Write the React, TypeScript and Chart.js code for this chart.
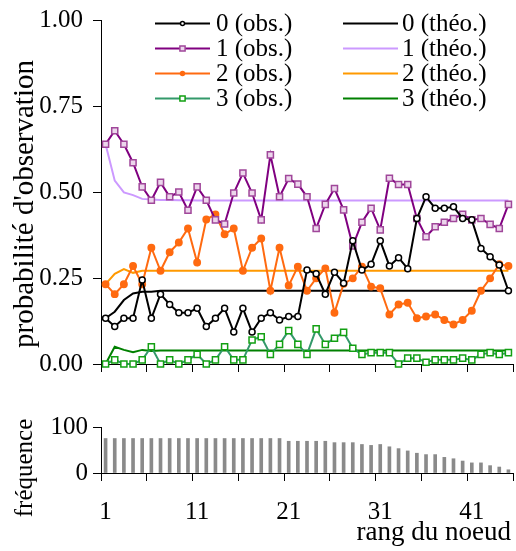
import React, { useEffect, useRef } from 'react';
import { Chart, registerables } from 'chart.js';

Chart.register(...registerables);

// ---------- data ----------
const ranks = [1, 2, 3, 4, 5, 6, 7, 8, 9, 10, 11, 12, 13, 14, 15, 16, 17, 18, 19, 20, 21, 22, 23, 24, 25, 26, 27, 28, 29, 30, 31, 32, 33, 34, 35, 36, 37, 38, 39, 40, 41, 42, 43, 44, 45];

const obs0 = [0.133, 0.109, 0.133, 0.133, 0.244, 0.133, 0.203, 0.173, 0.149, 0.149, 0.162, 0.109, 0.133, 0.162, 0.093, 0.162, 0.093, 0.133, 0.149, 0.128, 0.138, 0.138, 0.273, 0.262, 0.203, 0.267, 0.235, 0.358, 0.273, 0.29, 0.358, 0.285, 0.309, 0.277, 0.423, 0.486, 0.453, 0.453, 0.457, 0.423, 0.419, 0.336, 0.312, 0.288, 0.213];
const obs1 = [0.639, 0.678, 0.639, 0.585, 0.515, 0.476, 0.528, 0.486, 0.5, 0.447, 0.515, 0.476, 0.419, 0.407, 0.497, 0.555, 0.497, 0.419, 0.608, 0.486, 0.539, 0.523, 0.486, 0.394, 0.464, 0.51, 0.448, 0.343, 0.412, 0.453, 0.39, 0.54, 0.522, 0.522, 0.423, 0.37, 0.399, 0.412, 0.423, 0.435, 0.419, 0.423, 0.406, 0.394, 0.464];
const obs2 = [0.232, 0.203, 0.232, 0.285, 0.232, 0.338, 0.271, 0.325, 0.353, 0.394, 0.295, 0.42, 0.435, 0.377, 0.394, 0.271, 0.338, 0.365, 0.213, 0.338, 0.228, 0.283, 0.213, 0.249, 0.278, 0.149, 0.233, 0.249, 0.283, 0.225, 0.22, 0.144, 0.173, 0.178, 0.133, 0.138, 0.144, 0.128, 0.115, 0.128, 0.155, 0.213, 0.249, 0.29, 0.285];
const obs3 = [0, 0.012, 0, 0, 0.012, 0.05, 0, 0.012, 0, 0.012, 0.028, 0, 0.012, 0.05, 0.012, 0.012, 0.07, 0.079, 0.028, 0.057, 0.097, 0.057, 0.028, 0.102, 0.057, 0.075, 0.092, 0.046, 0.028, 0.033, 0.033, 0.033, 0, 0.017, 0.017, 0.005, 0.012, 0.012, 0.012, 0.017, 0.012, 0.028, 0.033, 0.028, 0.033];

const theo0 = [0.133, 0.152, 0.186, 0.205, 0.21, 0.21, 0.213, 0.213, 0.213, 0.213, 0.213, 0.213, 0.213, 0.213, 0.213, 0.213, 0.213, 0.213, 0.213, 0.213, 0.213, 0.213, 0.213, 0.213, 0.213, 0.213, 0.213, 0.213, 0.213, 0.213, 0.213, 0.213, 0.213, 0.213, 0.213, 0.213, 0.213, 0.213, 0.213, 0.213, 0.213, 0.213, 0.213, 0.213, 0.213];
const theo1 = [0.639, 0.533, 0.499, 0.491, 0.48, 0.478, 0.477, 0.477, 0.476, 0.476, 0.475, 0.475, 0.475, 0.475, 0.475, 0.475, 0.475, 0.475, 0.475, 0.475, 0.475, 0.475, 0.475, 0.475, 0.475, 0.475, 0.475, 0.475, 0.475, 0.475, 0.475, 0.475, 0.475, 0.475, 0.475, 0.475, 0.475, 0.475, 0.475, 0.475, 0.475, 0.475, 0.475, 0.475, 0.475];
const theo2 = [0.232, 0.262, 0.276, 0.265, 0.271, 0.271, 0.271, 0.271, 0.271, 0.271, 0.271, 0.271, 0.271, 0.271, 0.271, 0.271, 0.271, 0.271, 0.271, 0.271, 0.271, 0.271, 0.271, 0.271, 0.271, 0.271, 0.271, 0.271, 0.271, 0.271, 0.271, 0.271, 0.271, 0.271, 0.271, 0.271, 0.271, 0.271, 0.271, 0.271, 0.271, 0.271, 0.271, 0.271, 0.271];
const theo3 = [0, 0.05, 0.041, 0.034, 0.041, 0.038, 0.039, 0.039, 0.039, 0.039, 0.039, 0.039, 0.039, 0.039, 0.039, 0.039, 0.039, 0.039, 0.039, 0.039, 0.039, 0.039, 0.039, 0.039, 0.039, 0.039, 0.039, 0.039, 0.039, 0.039, 0.039, 0.039, 0.039, 0.039, 0.039, 0.039, 0.039, 0.039, 0.039, 0.039, 0.039, 0.039, 0.039, 0.039, 0.039];

const frequency = [75, 75, 75, 75, 75, 75, 75, 75, 75, 75, 75, 75, 75, 75, 75, 75, 75, 75, 75, 75, 69, 69, 69, 69, 69, 66, 66, 66, 62, 60, 62, 57, 53, 48, 43, 40, 40, 34, 31, 26, 22, 22, 16, 13, 7];

const seriesNames = ['0', '1', '2', '3'];
const obsSuffix = ' (obs.)';
const theoSuffix = ' (théo.)';

const tickMarks = [0.5, 5.5, 10.5, 15.5, 20.5, 25.5, 30.5, 35.5, 40.5, 45.5];
const xLabelRanks = [1, 11, 21, 31, 41];
const probTicks = [0, 0.25, 0.5, 0.75, 1];
const freqTicks = [0, 50, 100];

const yTitleTop = "probabilité d'observation";
const yTitleBottom = 'fréquence';
const xTitle = 'rang du noeud';

// ---------- styles ----------
const FONT = '"Liberation Serif", "Times New Roman", serif';
const obsStyles = [
  { line: '#000000', point: 'circle', r: 3, pb: '#000000', pf: '#ffffff' },
  { line: '#800080', point: 'rect', r: 4.3, pb: '#a0479a', pf: '#ecd6ec' },
  { line: '#ff6a10', point: 'circle', r: 3.2, pb: '#ff6a10', pf: '#ff6a10' },
  { line: '#33996a', point: 'rect', r: 4.3, pb: '#12a012', pf: '#ffffff' },
];
const theoColors = ['#000000', '#cc99ff', '#ff9900', '#008000'];

const obsData = [obs0, obs1, obs2, obs3];
const theoData = [theo0, theo1, theo2, theo3];

const toXY = (vals: number[]) => ranks.map((r, i) => ({ x: r, y: vals[i] }));

function xScale(showLabels: boolean, height: number, padding: number) {
  return {
    type: 'linear',
    min: 0.5,
    max: 45.5,
    offset: false,
    afterBuildTicks: (scale: any) => {
      const vals = showLabels ? [...tickMarks, ...xLabelRanks].sort((a, b) => a - b) : tickMarks;
      scale.ticks = vals.map((v) => ({ value: v }));
    },
    afterFit: (scale: any) => {
      scale.height = height;
      scale.paddingLeft = 0;
      scale.paddingRight = 0;
      scale.paddingTop = 0;
      scale.paddingBottom = 0;
    },
    ticks: {
      autoSkip: false,
      maxRotation: 0,
      minRotation: 0,
      padding,
      color: '#000',
      font: { family: FONT, size: 25 },
      callback: (v: any) => (showLabels && xLabelRanks.includes(v) ? String(v) : ''),
    },
    grid: {
      offset: false,
      drawOnChartArea: false,
      drawTicks: true,
      tickLength: 8,
      lineWidth: 1,
      color: (ctx: any) => (ctx.tick && xLabelRanks.includes(ctx.tick.value) ? 'rgba(0,0,0,0)' : '#000'),
    },
    border: { display: true, color: '#000', width: 1 },
  };
}

function yScale(min: number, max: number, tickVals: number[], fmt: (v: number) => string, padding: number) {
  return {
    type: 'linear',
    min,
    max,
    afterBuildTicks: (scale: any) => {
      scale.ticks = tickVals.map((v) => ({ value: v }));
    },
    afterFit: (scale: any) => {
      scale.width = 101;
      scale.paddingTop = 0;
      scale.paddingBottom = 0;
      scale.paddingLeft = 0;
      scale.paddingRight = 0;
    },
    ticks: {
      padding,
      color: '#000',
      font: { family: FONT, size: 25 },
      callback: (v: any) => fmt(Number(v)),
    },
    grid: {
      drawOnChartArea: false,
      drawTicks: true,
      tickLength: 8,
      lineWidth: 1,
      color: '#000',
    },
    border: { display: true, color: '#000', width: 1 },
  };
}

function drawMarker(ctx: CanvasRenderingContext2D, kind: string, x: number, y: number, size: number, stroke: string, fill: string) {
  ctx.beginPath();
  if (kind === 'circle') {
    ctx.arc(x, y, size, 0, Math.PI * 2);
  } else {
    ctx.rect(x - size, y - size, size * 2, size * 2);
  }
  ctx.fillStyle = fill;
  ctx.fill();
  ctx.lineWidth = 1.5;
  ctx.strokeStyle = stroke;
  ctx.stroke();
}

const legendPlugin = {
  id: 'twoColLegend',
  afterDraw(chart: any) {
    const ctx: CanvasRenderingContext2D = chart.ctx;
    ctx.save();
    ctx.font = `25px ${FONT}`;
    ctx.textBaseline = 'middle';
    ctx.textAlign = 'left';
    seriesNames.forEach((name, s) => {
      const y = 23.5 + 25 * s;
      const st = obsStyles[s];
      ctx.beginPath();
      ctx.moveTo(155, y);
      ctx.lineTo(210, y);
      ctx.lineWidth = 2;
      ctx.strokeStyle = st.line;
      ctx.stroke();
      drawMarker(ctx, st.point, 182.5, y, st.point === 'circle' ? 2 : 2.6, st.pb, st.pf);
      ctx.fillStyle = '#000';
      ctx.fillText(name + obsSuffix, 216, y + 1);
      ctx.beginPath();
      ctx.moveTo(343, y);
      ctx.lineTo(398, y);
      ctx.lineWidth = 2;
      ctx.strokeStyle = theoColors[s];
      ctx.stroke();
      ctx.fillStyle = '#000';
      ctx.fillText(name + theoSuffix, 402, y + 1);
    });
    ctx.restore();
  },
};

const topTitlePlugin = {
  id: 'topTitle',
  afterDraw(chart: any) {
    const ctx: CanvasRenderingContext2D = chart.ctx;
    ctx.save();
    ctx.font = `29px ${FONT}`;
    ctx.fillStyle = '#000';
    ctx.textAlign = 'center';
    ctx.textBaseline = 'middle';
    ctx.translate(25, 204);
    ctx.rotate(-Math.PI / 2);
    ctx.fillText(yTitleTop, 0, 0);
    ctx.restore();
  },
};

const bottomTitlePlugin = {
  id: 'bottomTitle',
  afterDraw(chart: any) {
    const ctx: CanvasRenderingContext2D = chart.ctx;
    ctx.save();
    ctx.font = `25px ${FONT}`;
    ctx.fillStyle = '#000';
    ctx.textAlign = 'center';
    ctx.textBaseline = 'middle';
    ctx.save();
    ctx.translate(25, 83);
    ctx.rotate(-Math.PI / 2);
    ctx.fillText(yTitleBottom, 0, 0);
    ctx.restore();
    ctx.font = `27px ${FONT}`;
    ctx.textAlign = 'right';
    ctx.fillText(xTitle, 511, 148);
    ctx.restore();
  },
};

export default function App() {
  const topRef = useRef<HTMLCanvasElement | null>(null);
  const botRef = useRef<HTMLCanvasElement | null>(null);

  useEffect(() => {
    if (!topRef.current || !botRef.current) return;

    const obsSets = obsData.map((vals, s) => ({
      label: seriesNames[s] + obsSuffix,
      data: toXY(vals),
      borderColor: obsStyles[s].line,
      borderWidth: 2,
      pointStyle: obsStyles[s].point,
      pointRadius: obsStyles[s].r,
      pointBorderColor: obsStyles[s].pb,
      pointBackgroundColor: obsStyles[s].pf,
      pointBorderWidth: 1.5,
      tension: 0,
      clip: false,
      fill: false,
    }));
    const theoSets = theoData.map((vals, s) => ({
      label: seriesNames[s] + theoSuffix,
      data: toXY(vals),
      borderColor: theoColors[s],
      borderWidth: 2,
      pointRadius: 0,
      tension: 0,
      clip: false,
      fill: false,
    }));

    const top = new Chart(topRef.current, {
      type: 'line',
      data: { datasets: [...obsSets, ...theoSets] as any },
      options: {
        responsive: false,
        animation: false,
        layout: { autoPadding: false, padding: { top: 20, right: 3, left: 0, bottom: 0 } },
        plugins: { legend: { display: false }, tooltip: { enabled: false } },
        scales: {
          x: xScale(false, 21, 3) as any,
          y: yScale(0, 1, probTicks, (v) => v.toFixed(2), 10) as any,
        },
      },
      plugins: [legendPlugin, topTitlePlugin],
    });

    const bot = new Chart(botRef.current, {
      type: 'bar',
      data: {
        datasets: [
          {
            label: yTitleBottom,
            data: toXY(frequency),
            backgroundColor: '#8a8a8a',
            borderWidth: 0,
            barThickness: 3,
          } as any,
        ],
      },
      options: {
        responsive: false,
        animation: false,
        layout: { autoPadding: false, padding: { top: 42, right: 3, left: 0, bottom: 0 } },
        plugins: { legend: { display: false }, tooltip: { enabled: false } },
        scales: {
          x: xScale(true, 78, 16) as any,
          y: yScale(0, 100, freqTicks, (v) => String(v), 5) as any,
        },
      },
      plugins: [bottomTitlePlugin],
    });

    return () => {
      top.destroy();
      bot.destroy();
    };
  }, []);

  return (
    <div style={{ position: 'absolute', left: 0, top: 0, width: 516, height: 551, background: '#fff' }}>
      <canvas ref={topRef} width={516} height={385} style={{ position: 'absolute', left: 0, top: 0 }} />
      <canvas ref={botRef} width={516} height={166} style={{ position: 'absolute', left: 0, top: 385 }} />
    </div>
  );
}
